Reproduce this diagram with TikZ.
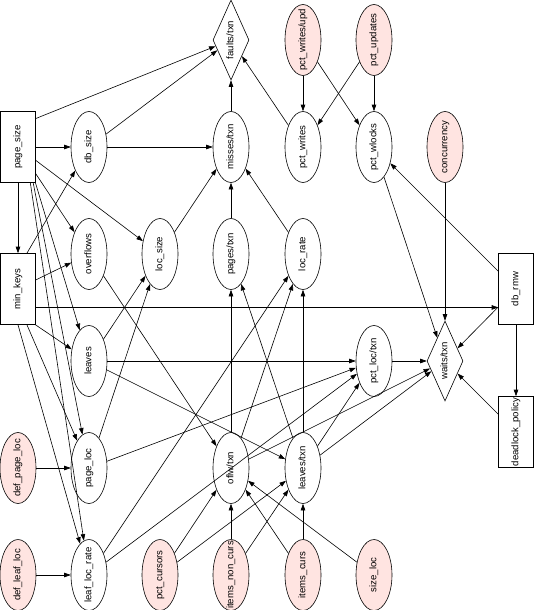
\documentclass[tikz,border=0pt]{standalone}
\usepackage{fontspec}
\setmainfont{Liberation Sans}
\usetikzlibrary{shapes.geometric,arrows.meta}
\definecolor{inpink}{RGB}{255,228,225}
\newcommand{\vlabel}[1]{\rotatebox{90}{\makebox[0pt]{\vphantom{Ag}#1}}}
\begin{document}
\begin{tikzpicture}[x=1pt,y=-1pt,
    every node/.style={font=\fontsize{9.6}{11}\selectfont},
    var/.style={ellipse,draw,line width=.6pt,minimum width=36pt,minimum height=71pt,inner sep=0pt},
    input/.style={var,fill=inpink},
    param/.style={rectangle,draw,line width=.6pt,minimum width=35pt,minimum height=71pt,inner sep=0pt},
    rate/.style={diamond,draw,line width=.6pt,aspect=.45,minimum width=36pt,minimum height=80pt,inner sep=0pt},
    arc/.style={draw,line width=.6pt,-{Triangle[length=6.5pt,width=4.5pt]}}]
\useasboundingbox (0,0) rectangle (534,610);
%boxes
\foreach \n/\x/\y/\t in {pagesize/18/147/page\_size, minkeys/18/289/min\_keys,
    dbrmw/516/289/db\_rmw, deadlock/516/432/deadlock\_policy}{
    \node[param] (\n) at (\x,\y) {\vlabel{\t}};
}
%inputs
\foreach \n/\x/\y/\t in {defpageloc/18/468/def\_page\_loc, defleafloc/18/575/def\_leaf\_loc,
    pctcursors/160/575/pct\_cursors, itemsnoncurs/231/575/items\_non\_curs,
    itemscurs/303/575/items\_curs, sizeloc/374/575/size\_loc,
    pctwritesupd/303/40/{pct\_writes/upd}, pctupdates/374/40/pct\_updates,
    concurrency/445/147/concurrency}{
    \node[input] (\n) at (\x,\y) {\vlabel{\t}};
}
%derived
\foreach \n/\x/\y/\t in {dbsize/89/147/db\_size, overflows/89/254/overflows,
    leaves/89/361/leaves, pageloc/89/468/page\_loc, leaflocrate/89/575/leaf\_loc\_rate,
    locsize/160/254/loc\_size, misses/231/147/{misses/txn}, pages/231/254/{pages/txn},
    oflw/231/468/{oflw/txn}, pctwrites/303/147/pct\_writes, locrate/303/254/loc\_rate,
    leavestxn/303/468/{leaves/txn}, pctwlocks/374/147/pct\_wlocks, pctloc/374/361/{pct\_loc/txn}}{
    \node[var] (\n) at (\x,\y) {\vlabel{\t}};
}
\node[rate] (faults) at (231,40) {\vlabel{faults/txn}};
\node[rate] (waits) at (445,361) {\vlabel{waits/txn}};
%edges
\foreach \a/\b in {pagesize.58/faults, pagesize/dbsize, pagesize/locsize, pagesize/overflows,
    pagesize/minkeys, pagesize.-64/leaves, pagesize.-67/pageloc, pagesize.-71/leaflocrate,
    minkeys.76/dbsize, minkeys.27/overflows, minkeys.-64/leaves, minkeys.-76/pageloc,
    minkeys.south/leaflocrate,
    defpageloc/pageloc, defleafloc/leaflocrate,
    dbsize/faults, dbsize/misses, locsize/misses, pages/misses, locrate/misses,
    misses/faults, pctwrites/faults,
    pctwritesupd/pctwrites, pctwritesupd/pctwlocks, pctupdates/pctwrites, pctupdates/pctwlocks,
    dbrmw/pctwlocks, pctwlocks/waits, concurrency/waits, dbrmw/waits, dbrmw/deadlock,
    deadlock/waits, pctloc/waits,
    leaves/pctloc, leaves/locsize, leaves/leavestxn,
    pageloc/locsize, pageloc/pctloc, leaflocrate/locrate, leaflocrate/pctloc,
    overflows/oflw, oflw/pages, oflw/locrate, oflw/waits,
    leavestxn/pages, leavestxn/locrate, leavestxn/pctloc, leavestxn/waits,
    pctcursors/oflw, pctcursors/leavestxn, itemsnoncurs/oflw, itemsnoncurs/leavestxn,
    itemscurs/oflw, itemscurs/leavestxn, sizeloc/oflw}{
    \path[arc] (\a) -- (\b);
}
\path[arc] (minkeys.-46) -- (minkeys.-46 -| dbrmw.west);
\end{tikzpicture}
\end{document}
